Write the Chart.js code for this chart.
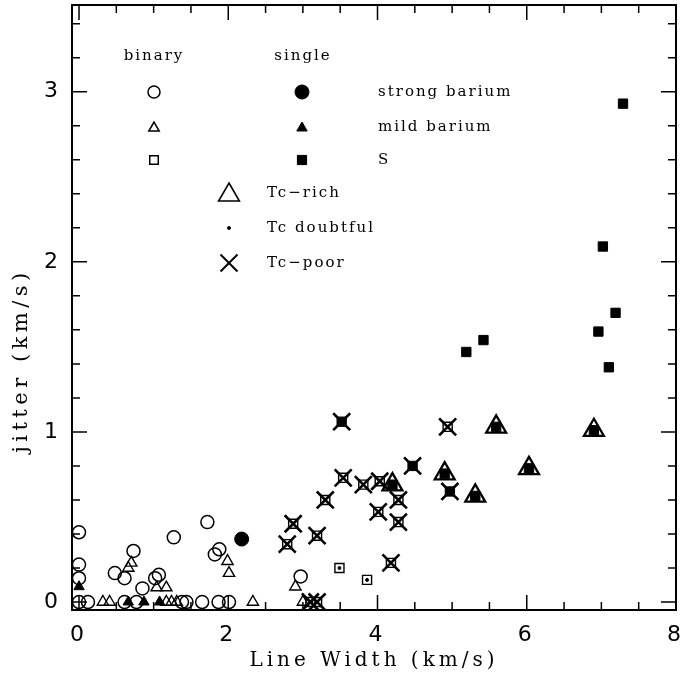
<!DOCTYPE html>
<html>
<head>
<meta charset="utf-8">
<script src="https://cdn.jsdelivr.net/npm/chart.js@4/dist/chart.umd.min.js"></script>
<style>
  html, body { margin: 0; padding: 0; background: #fff; }
</style>
</head>
<body>
<canvas id="jitterChart" width="683" height="677"></canvas>
<script>
/* jitter vs line width, barium / S stars */

// binary, strong barium (open circles)
const binStrongX = [0.00, 0.00, 0.00, 0.00, 0.12, 0.61, 0.77, 1.38, 1.44, 1.65, 1.87, 2.01,
                    0.73, 0.48, 0.61, 1.07, 1.02, 0.85, 1.27, 1.72, 1.88, 1.82, 2.97];
const binStrongY = [0.41, 0.22, 0.14, 0.00, 0.00, 0.00, 0.00, 0.00, 0.00, 0.00, 0.00, 0.00,
                    0.30, 0.17, 0.14, 0.16, 0.14, 0.08, 0.38, 0.47, 0.31, 0.28, 0.15];

// binary, mild barium (open triangles)
const binMildX = [0.32, 0.41, 1.17, 1.24, 1.31, 2.33, 3.00, 0.70, 0.66, 1.04, 1.17, 1.99, 2.01, 2.90];
const binMildY = [0.00, 0.00, 0.00, 0.00, 0.00, 0.00, 0.00, 0.23, 0.20, 0.085, 0.085, 0.24, 0.17, 0.09];

// single, strong barium (filled circle)
const sinStrongX = [2.18];
const sinStrongY = [0.37];

// single, mild barium (filled triangles)
const sinMildX = [0.00, 0.66, 0.87, 1.08];
const sinMildY = [0.09, 0.00, 0.00, 0.00];

// binary S (open squares)
const binSX = [3.49, 3.86, 2.87, 2.79, 3.19, 3.30, 3.54, 3.81, 4.03, 4.28, 4.01, 4.28, 4.18, 4.94, 3.10, 3.19];
const binSY = [0.20, 0.13, 0.46, 0.34, 0.39, 0.60, 0.73, 0.69, 0.71, 0.60, 0.53, 0.47, 0.23, 1.03, 0.00, 0.00];

// single S (filled squares)
const sinSX = [5.19, 5.42, 6.96, 7.19, 7.10, 7.29, 7.02, 3.52, 4.47, 4.97, 4.20, 5.59, 4.90, 6.03, 5.31, 6.90];
const sinSY = [1.47, 1.54, 1.59, 1.70, 1.38, 2.93, 2.09, 1.06, 0.80, 0.65, 0.69, 1.03, 0.755, 0.786, 0.624, 1.01];

// Tc flags drawn over the stars
const tcRichX = [4.20, 5.59, 4.90, 6.03, 5.31, 6.90];
const tcRichY = [0.69, 1.03, 0.755, 0.786, 0.624, 1.01];
const tcDoubtX = [3.49, 3.86];
const tcDoubtY = [0.20, 0.13];
const tcPoorX = [2.87, 2.79, 3.19, 3.30, 3.54, 3.81, 4.03, 4.28, 4.01, 4.28, 4.18, 4.94, 3.10, 3.19, 3.52, 4.47, 4.97];
const tcPoorY = [0.46, 0.34, 0.39, 0.60, 0.73, 0.69, 0.71, 0.60, 0.53, 0.47, 0.23, 1.03, 0.00, 0.00, 1.06, 0.80, 0.65];

const xTitle = 'Line Width (km/s)';
const yTitle = 'jitter (km/s)';
const legendHeads = ['binary', 'single'];
const legendRows = ['strong barium', 'mild barium', 'S'];
const legendTc = ['Tc\u2212rich', 'Tc doubtful', 'Tc\u2212poor'];

const pts = (xs, ys) => xs.map((x, i) => ({ x: x, y: ys[i] }));
const NONE = 'rgba(0,0,0,0)';
const SERIF = '"DejaVu Serif", "Liberation Serif", serif';

function marker(label, xs, ys, style, r, fill, bw, order) {
  return {
    label: label,
    data: pts(xs, ys),
    pointStyle: style,
    pointRadius: r,
    pointHoverRadius: r,
    pointBackgroundColor: fill ? '#000' : NONE,
    pointBorderColor: '#000',
    pointBorderWidth: bw,
    showLine: false,
    order: order
  };
}

// frame with inward ticks on all four sides
const frameTicks = {
  id: 'frameTicks',
  beforeDatasetsDraw(chart) {
    const ctx = chart.ctx;
    const a = chart.chartArea;
    ctx.save();
    ctx.strokeStyle = '#000';
    ctx.lineWidth = 2;
    ctx.strokeRect(a.left, a.top, a.right - a.left, a.bottom - a.top);
    ctx.lineWidth = 1.5;
    ctx.beginPath();
    chart.scales.x.ticks.forEach(t => {
      const p = chart.scales.x.getPixelForValue(t.value);
      const len = t.label ? 15 : 8;
      ctx.moveTo(p, a.bottom); ctx.lineTo(p, a.bottom - len);
      ctx.moveTo(p, a.top); ctx.lineTo(p, a.top + len);
    });
    chart.scales.y.ticks.forEach(t => {
      const p = chart.scales.y.getPixelForValue(t.value);
      const len = t.label ? 15 : 8;
      ctx.moveTo(a.left, p); ctx.lineTo(a.left + len, p);
      ctx.moveTo(a.right, p); ctx.lineTo(a.right - len, p);
    });
    ctx.stroke();
    ctx.restore();
  }
};

// in-plot key and the y title
const keyPlugin = {
  id: 'keyPlugin',
  beforeDraw(chart) {
    chart.ctx.letterSpacing = '4px';
  },
  afterDraw(chart) {
    const ctx = chart.ctx;
    const a = chart.chartArea;
    const dp = Chart.helpers.drawPoint;
    ctx.save();
    ctx.fillStyle = '#000';
    ctx.strokeStyle = '#000';

    const sym = (style, r, fill, lw, x, y) => {
      ctx.fillStyle = fill ? '#000' : NONE;
      ctx.lineWidth = lw;
      dp(ctx, { pointStyle: style, radius: r, rotation: 0, borderWidth: lw }, x, y);
    };

    const col1 = 154, col2 = 302, col3 = 229;
    const rows = [92, 127, 160, 193, 228, 263];
    sym('circle', 6, false, 1.5, col1, rows[0]);
    sym('circle', 7, true, 1, col2, rows[0]);
    sym('triangle', 6, false, 1.5, col1, rows[1] + 1);
    sym('triangle', 6, true, 1, col2, rows[1] + 1);
    sym('rect', 6, false, 1.5, col1, rows[2]);
    sym('rect', 6.5, true, 1, col2, rows[2]);
    sym('triangle', 12, false, 1.6, col3, rows[3] + 2);
    sym('circle', 1.5, true, 1, col3, rows[4]);
    sym('crossRot', 12, false, 2, col3, rows[5]);

    ctx.fillStyle = '#000';
    ctx.font = '15px ' + SERIF;
    ctx.letterSpacing = '2px';
    ctx.textBaseline = 'middle';
    ctx.textAlign = 'center';
    ctx.fillText(legendHeads[0], col1, 56);
    ctx.fillText(legendHeads[1], col2 + 1, 56);
    ctx.textAlign = 'left';
    legendRows.forEach((s, i) => ctx.fillText(s, 378, rows[i]));
    legendTc.forEach((s, i) => ctx.fillText(s, 267, rows[i + 3]));

    // y title
    ctx.font = '21px ' + SERIF;
    ctx.letterSpacing = '4.5px';
    ctx.textAlign = 'center';
    ctx.translate(22, (a.top + a.bottom) / 2 + 53);
    ctx.rotate(-Math.PI / 2);
    ctx.fillText(yTitle, 0, 0);
    ctx.restore();
    ctx.letterSpacing = '0px';
  }
};

const ctx = document.getElementById('jitterChart').getContext('2d');
new Chart(ctx, {
  type: 'scatter',
  data: {
    datasets: [
      marker('Tc-poor', tcPoorX, tcPoorY, 'crossRot', 12, false, 2.6, 0),
      marker('Tc-rich', tcRichX, tcRichY, 'triangle', 11.5, false, 2.3, 0),
      marker('Tc doubtful', tcDoubtX, tcDoubtY, 'circle', 1.5, true, 1, 0),
      marker('binary strong barium', binStrongX, binStrongY, 'circle', 6.5, false, 1.5, 1),
      marker('binary mild barium', binMildX, binMildY, 'triangle', 6.5, false, 1.4, 1),
      marker('single strong barium', sinStrongX, sinStrongY, 'circle', 7, true, 1, 1),
      marker('single mild barium', sinMildX, sinMildY, 'triangle', 6, true, 1, 1),
      marker('binary S', binSX, binSY, 'rect', 6.4, false, 1.4, 1),
      marker('single S', sinSX, sinSY, 'rect', 6.6, true, 1, 1)
    ]
  },
  options: {
    responsive: false,
    animation: false,
    events: [],
    layout: { autoPadding: false, padding: { top: 5, right: 7, left: 0, bottom: 0 } },
    scales: {
      x: {
        type: 'linear',
        min: -0.094,
        max: 8,
        afterFit: (s) => { s.height = 67; s.paddingLeft = 0; s.paddingRight = 0; },
        grid: { display: false, drawTicks: false },
        border: { display: false },
        ticks: {
          stepSize: 0.5,
          includeBounds: false,
          autoSkip: false,
          maxRotation: 0,
          maxTicksLimit: 100,
          padding: 12,
          color: '#000',
          font: { family: '"DejaVu Sans", sans-serif', size: 22 },
          callback: (v) => Math.abs(v / 2 - Math.round(v / 2)) < 1e-6 ? String(Math.round(v)) : ''
        },
        title: {
          display: true,
          text: xTitle,
          color: '#000',
          font: { family: SERIF, size: 20 },
          padding: { top: 0, bottom: 4 }
        }
      },
      y: {
        type: 'linear',
        min: -0.047,
        max: 3.51,
        afterFit: (s) => { s.width = 72; s.paddingTop = 0; s.paddingBottom = 0; },
        grid: { display: false, drawTicks: false },
        border: { display: false },
        ticks: {
          stepSize: 0.2,
          includeBounds: false,
          autoSkip: false,
          maxTicksLimit: 100,
          padding: 10,
          color: '#000',
          font: { family: '"DejaVu Sans", sans-serif', size: 22 },
          callback: (v) => Math.abs(v - Math.round(v)) < 1e-6 ? String(Math.round(v)) : ''
        },
        title: { display: false }
      }
    },
    plugins: {
      legend: { display: false },
      tooltip: { enabled: false }
    }
  },
  plugins: [frameTicks, keyPlugin]
});
</script>
</body>
</html>
